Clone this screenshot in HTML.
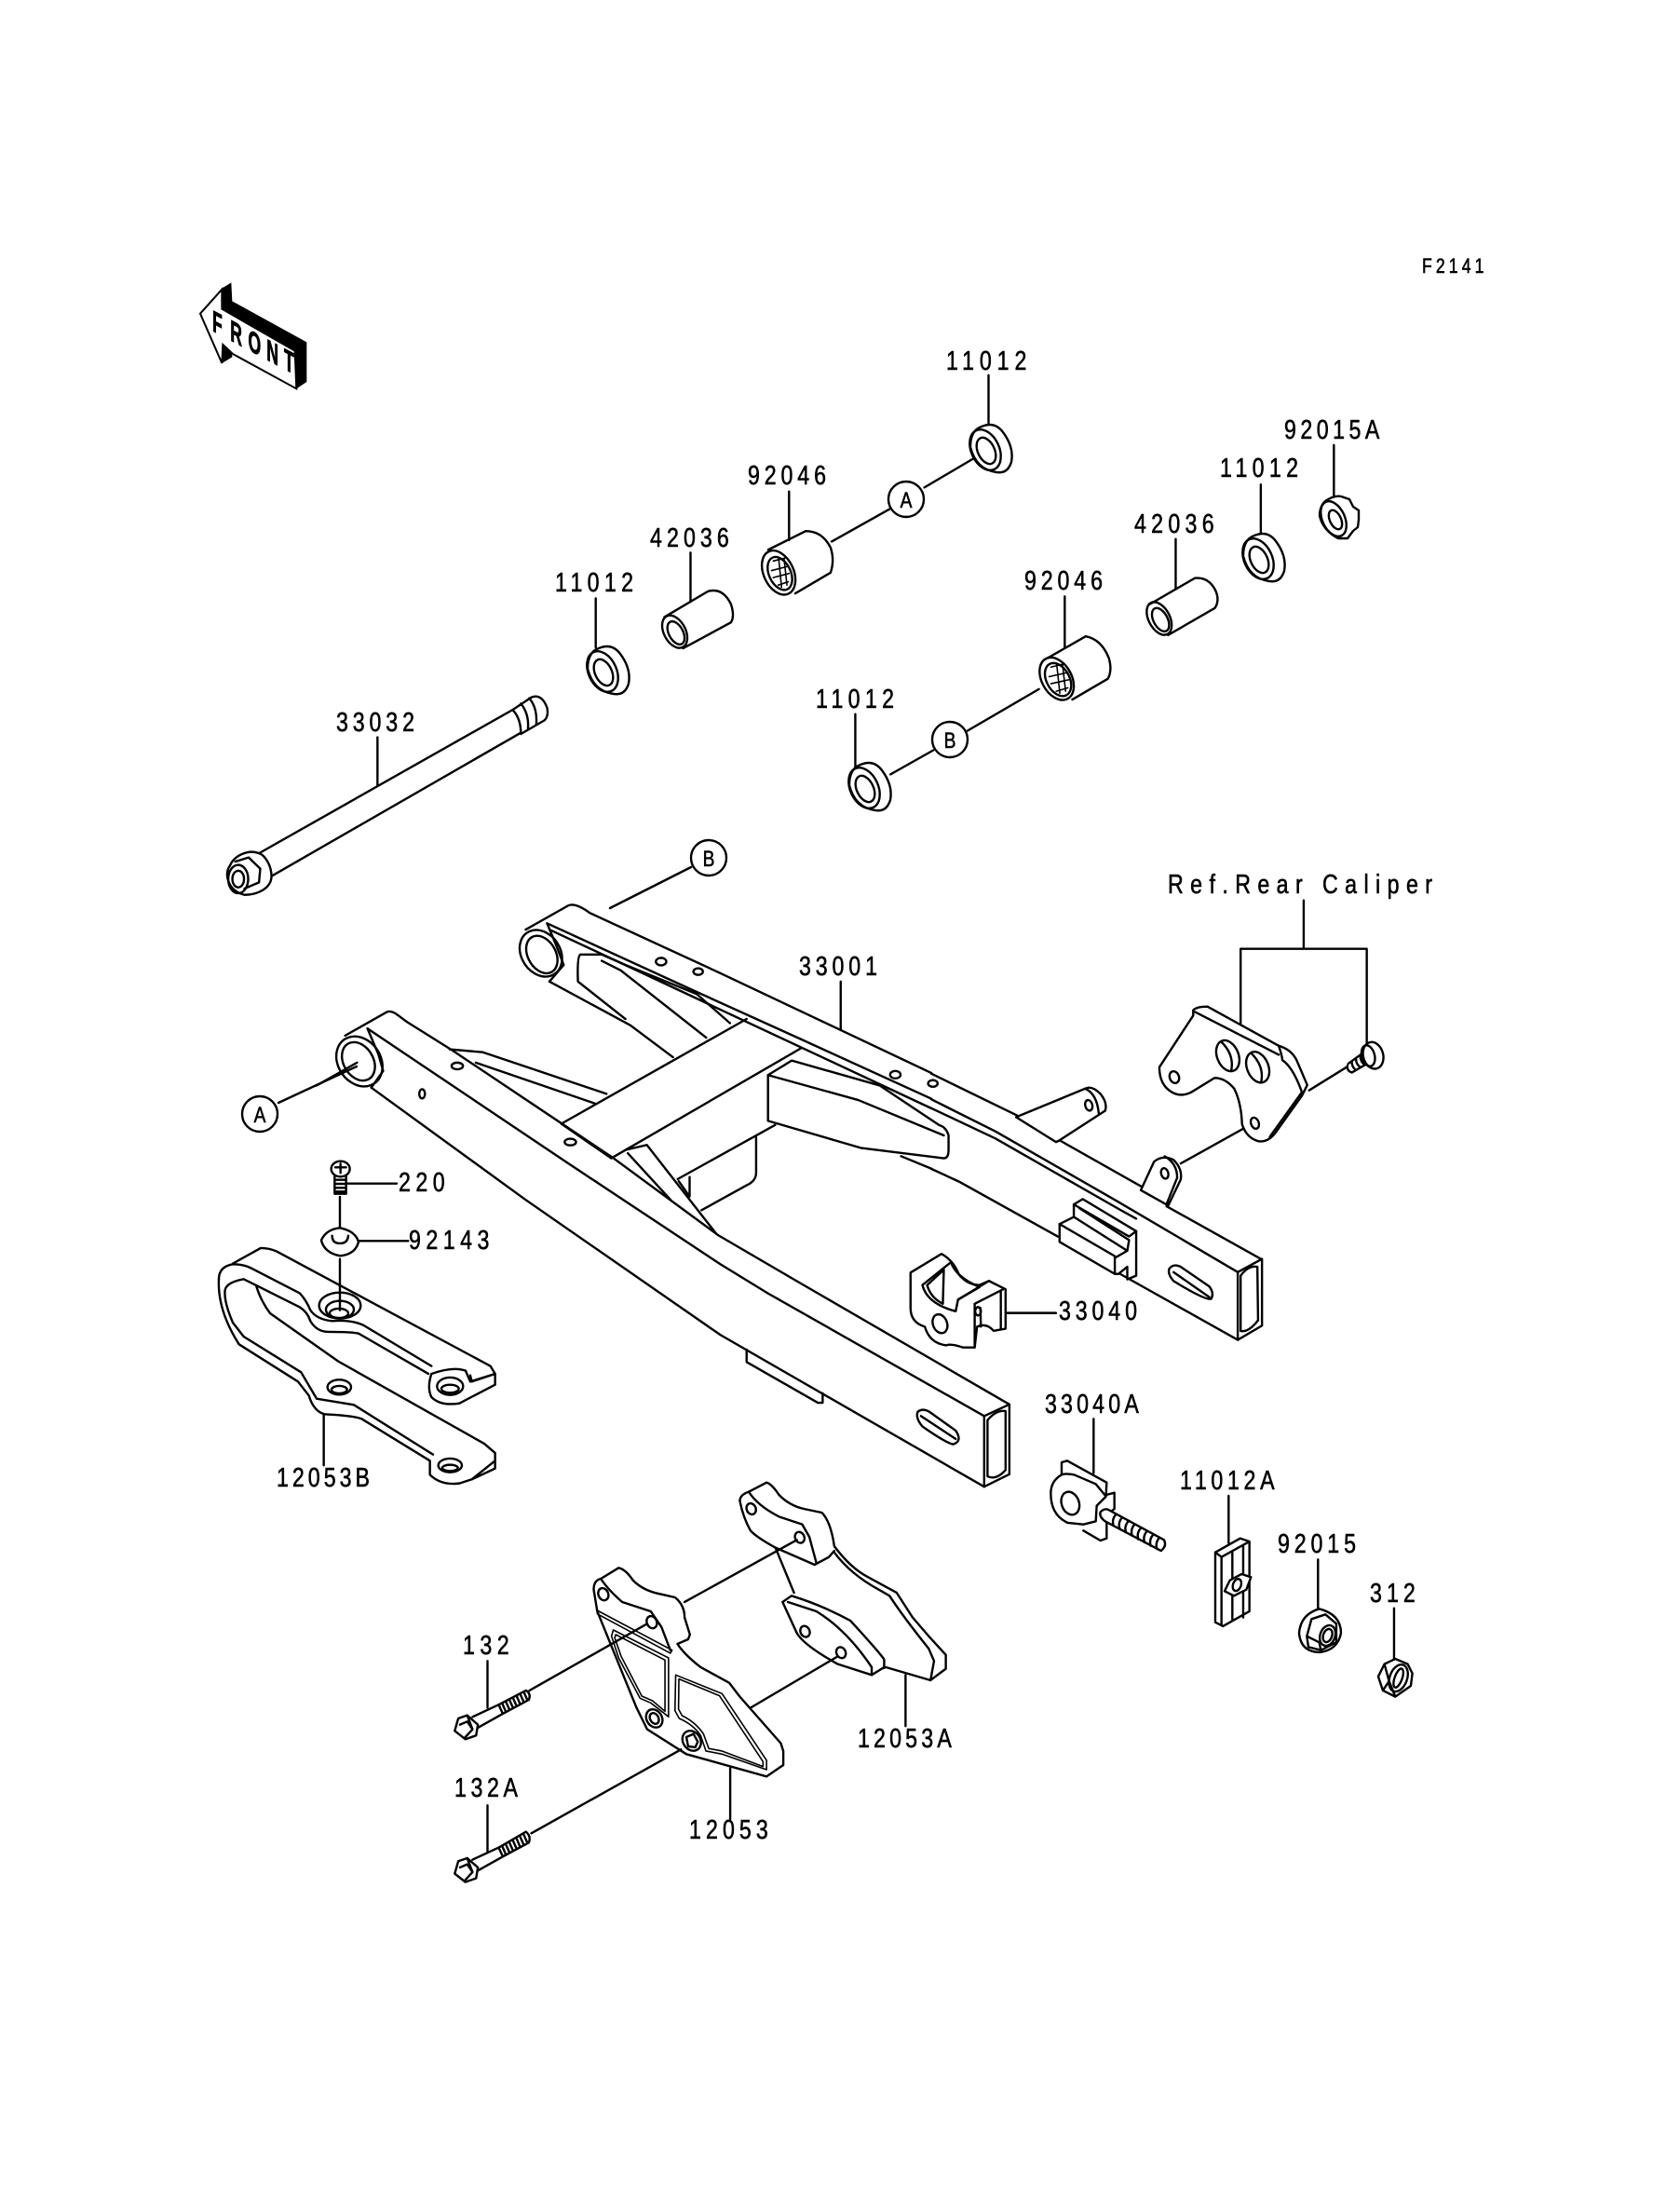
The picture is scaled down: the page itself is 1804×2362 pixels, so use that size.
<!DOCTYPE html>
<html><head><meta charset="utf-8"><style>
html,body{margin:0;padding:0;background:#fff}
svg{display:block}
path,ellipse,line,circle,polygon{vector-effect:non-scaling-stroke}
.d{fill:none;stroke:#000;stroke-width:2.4;stroke-linejoin:round;stroke-linecap:round}
.w{fill:#fff}
.t{stroke-width:1.6}
text{font-family:"Liberation Sans",sans-serif;font-size:29px;fill:#000;stroke:#000;stroke-width:.6}
.c{font-size:24px;text-anchor:middle}
</style></head><body>
<svg width="1804" height="2362" viewBox="0 0 1804 2362" xmlns="http://www.w3.org/2000/svg">
<rect width="1804" height="2362" fill="#fff"/>
<defs>
<g id="wa" class="d">
<path class="w" d="M-10,-24 Q4,-30 13,-18 Q25,-2 22,14 Q18,27 6,25 Q-16,22 -22,-2 Q-22,-20 -10,-24Z"/>
<ellipse cx="-6" cy="1" rx="15" ry="23" transform="rotate(-25 -6 1)"/>
<ellipse cx="-5" cy="2" rx="9" ry="15" transform="rotate(-25 -5 2)"/>
</g>
<g id="nu" class="d">
<path class="w" d="M-16,-18 Q-4,-26 4,-22 L10,-20 L14,-12 L20,-8 L20,2 L19,10 L14,14 L8,22 L-2,22 Q-18,14 -22,-2 Q-22,-12 -16,-18Z"/>
<ellipse cx="-7" cy="1" rx="12" ry="20" transform="rotate(-25 -7 1)"/>
<ellipse cx="-5" cy="2" rx="6" ry="11" transform="rotate(-25 -5 2)"/>
</g>
</defs>

<!-- FRONT arrow -->
<g transform="translate(190,280) scale(.3333)">
<path d="M143,90 L175,70 L178,130 L418,262 L418,390 L385,412 L380,290 L145,155Z M145,330 L178,310 L178,290 L148,270Z" fill="#000"/>
<path d="M75,170 L145,92 L145,155 L380,290 L385,412 L180,300 L148,270 L145,330Z" fill="#fff" stroke="#000" stroke-width="2"/>
</g>
<text transform="translate(228,355) skewY(28) scale(.55,1)" x="0 35 70 106 140" y="0" style="font-size:32px;font-weight:bold;stroke:#000;stroke-width:1">FRONT</text>

<!-- upper-left parts (zoom1) -->
<g class="d" transform="translate(200,280) scale(.4464)">
<path d="M175,1425 L785,1080 M205,1480 L805,1135"/>
<path d="M785,1080 L830,1050 Q855,1040 868,1075 Q872,1095 862,1105 L805,1138 M785,1080 Q805,1100 805,1138 M805,1065 Q825,1090 822,1125 M825,1052 Q845,1075 842,1115"/>
<path class="w" d="M175,1425 C150,1415 115,1430 105,1455 C90,1475 100,1515 140,1525 C170,1525 205,1510 205,1480 C205,1455 190,1430 175,1425Z"/>
<path d="M118,1445 L150,1435 L178,1462 L175,1495 L140,1510"/>
<ellipse cx="125" cy="1487" rx="24" ry="34"/>
<ellipse cx="125" cy="1487" rx="14" ry="20"/>
<path d="M460,1146 L460,1262 M985,812 L985,930 M1213,702 L1213,820 M1450,555 L1450,672"/>
<!-- sleeve 42036 -->
<path d="M1150,857 L1255,795 Q1290,785 1310,825 Q1320,855 1310,870 L1195,932"/>
<ellipse cx="1175" cy="892" rx="26" ry="42" transform="rotate(-28 1175 892)"/>
<ellipse cx="1178" cy="895" rx="17" ry="30" transform="rotate(-28 1178 895)"/>
<!-- bearing 92046 -->
<path d="M1400,695 L1490,650 Q1530,650 1550,690 Q1560,720 1550,750 L1465,800"/>
<ellipse cx="1425" cy="750" rx="36" ry="56" transform="rotate(-25 1425 750)"/>
<ellipse cx="1428" cy="752" rx="26" ry="42" transform="rotate(-25 1428 752)"/>
<path class="t" d="M1412,722 L1440,715 M1408,745 L1447,735 M1412,762 L1450,752 M1424,780 L1448,772 M1425,715 L1432,785 M1438,716 L1445,780"/>
</g>

<!-- upper-right parts (zoom2) -->
<g class="d" transform="translate(850,260) scale(.4785,.4464)">
<path d="M442,320 L442,445 M1053,583 L1053,705 M1217,488 L1217,615 M862,714 L862,835 M613,852 L613,975 M143,1135 L143,1262"/>
<path d="M90,720 L220,642 M298,590 L412,518 M222,1280 L318,1222 M395,1175 L555,1075"/>
<path d="M805,870 L905,808 Q935,805 950,835 Q962,860 950,880 L845,945"/>
<ellipse cx="825" cy="905" rx="24" ry="42" transform="rotate(-25 825 905)"/>
<ellipse cx="828" cy="908" rx="16" ry="30" transform="rotate(-25 828 908)"/>
<path d="M575,1000 L660,948 Q695,955 712,1000 Q720,1030 710,1050 L630,1100"/>
<ellipse cx="595" cy="1050" rx="34" ry="54" transform="rotate(-25 595 1050)"/>
<ellipse cx="598" cy="1052" rx="26" ry="42" transform="rotate(-25 598 1052)"/>
<path class="t" d="M582,1022 L612,1014 M578,1045 L620,1035 M582,1062 L624,1052 M594,1080 L620,1072 M595,1015 L602,1085 M608,1016 L615,1080"/>
</g>

<use href="#wa" x="1064" y="482"/>
<use href="#wa" x="1357" y="599"/>
<use href="#wa" x="934" y="845"/>
<use href="#wa" x="653" y="720"/>
<use href="#nu" x="1439" y="556"/>

<g class="d">
<circle class="w" cx="973" cy="536" r="19"/>
<circle class="w" cx="1020" cy="794" r="19"/>
<circle class="w" cx="761" cy="921" r="19"/>
<circle class="w" cx="279" cy="1196" r="19"/>
<path d="M655,975 L742,931 M299,1184 L383,1145"/>
</g>

<!-- swingarm (zoom3) -->
<g class="d" transform="translate(340,940) scale(.5102,.4464)">
<path d="M1103,255 L1103,370"/>
<!-- right arm -->
<path d="M440,130 L530,72 Q545,65 575,90 L850,235 L1294,475"/>
<path d="M485,115 L800,280 L1020,394 L1294,537 M490,130 L1294,560"/>
<path d="M485,115 L505,170 L520,215 L490,255"/>
<ellipse cx="472" cy="187" rx="42" ry="58" transform="rotate(-22 472 187)"/>
<ellipse cx="474" cy="190" rx="30" ry="47" transform="rotate(-22 474 190)"/>
<path d="M490,255 L660,360 L750,437 M555,190 Q548,195 550,255 L650,345 M555,190 L600,190 L650,215 L800,285 L870,355 M600,205 L640,228 L820,390"/>
<ellipse cx="725" cy="207" rx="11" ry="9"/>
<ellipse cx="803" cy="231" rx="10" ry="8"/>
<ellipse cx="1218" cy="479" rx="11" ry="9"/>
<ellipse cx="1297" cy="500" rx="10" ry="8"/>
<path d="M1230,675 L1294,705"/>
<!-- gusset right -->
<path class="w" d="M950,480 L950,590 L1145,655 L1320,680 Q1330,680 1330,660 L1330,625 Q1325,605 1310,600 L1185,505 L1000,445Z"/>
<path d="M950,480 L1140,540 L1320,625"/>
<!-- crossmember -->
<path d="M515,597 L905,345 M620,680 L1020,415 M515,597 L620,680"/>
<path d="M280,418 L350,425 L610,525 M335,450 L585,548"/>
<path d="M650,660 L695,648 L840,860 M655,668 L745,780"/>
<path d="M760,730 L965,600 M785,725 L785,772 M762,735 L785,772 M925,630 L925,715 Q925,735 905,745 L810,805"/>
<!-- left arm -->
<path d="M60,385 L145,330 Q155,322 170,335 L190,352 L285,420 L625,680 L845,865 L1010,975 L1458,1272"/>
<path d="M107,368 L520,685 L850,935 L950,1005 L1405,1300"/>
<path d="M115,510 L440,780 L850,1105 L1405,1470"/>
<path d="M107,368 L130,430 L140,470 L115,510"/>
<ellipse cx="90" cy="447" rx="46" ry="62" transform="rotate(-22 90 447)"/>
<ellipse cx="88" cy="447" rx="32" ry="48" transform="rotate(-22 88 447)"/>
<path d="M0,505 L85,450"/>
<ellipse cx="296" cy="458" rx="12" ry="8"/>
<ellipse cx="222" cy="525" rx="6" ry="11"/>
<ellipse cx="534" cy="641" rx="12" ry="8"/>
<path d="M1405,1300 L1458,1272 L1458,1440 L1405,1470Z"/>
<path d="M1412,1310 Q1430,1285 1450,1288 L1450,1430 Q1430,1455 1412,1445Z"/>
<path d="M1265,1290 Q1275,1280 1290,1290 L1345,1335 Q1360,1360 1340,1368 Q1325,1365 1275,1325 Q1260,1305 1265,1290Z M1272,1300 L1345,1355"/>
<path d="M905,1140 L905,1170 L1055,1268 L1065,1268 L1065,1245"/>
<!-- 33040 -->
<path class="w" d="M1250,955 L1315,910 Q1340,925 1352,960 Q1370,985 1395,985 L1415,975 L1450,995 L1450,1090 L1425,1095 Q1410,1075 1390,1085 L1385,1135 L1360,1135 Q1335,1125 1325,1130 Q1290,1125 1280,1085 Q1250,1075 1250,1040Z"/>
<path d="M1275,985 L1335,930 Q1345,965 1395,990 L1350,1020 L1345,1048 Q1285,1030 1275,985Z M1285,985 L1320,948 L1318,1030 Q1292,1015 1285,985"/>
<path d="M1350,1020 L1415,975 M1385,1030 L1445,995 M1385,1030 L1385,1135 M1440,1000 L1440,1090 M1397,1040 L1398,1085"/>
<ellipse cx="1392" cy="1048" rx="6" ry="10"/>
<ellipse cx="1312" cy="1078" rx="15" ry="23" transform="rotate(-15 1312 1078)"/>
<path d="M1452,1052 L1555,1052"/>
</g>

<!-- right end of arm (zoom4) -->
<g class="d" transform="translate(1000,920) scale(.3827)">
<path d="M0,608 L240,725 M360,795 L590,925 M660,980 L925,1128"/>
<path d="M0,680 L180,770 L520,965 L860,1165 M0,705 L180,790 L530,990 L575,1015"/>
<path d="M0,875 L80,912 L355,1065 M530,1170 L860,1355"/>
<path d="M860,1165 L928,1128 L928,1315 L860,1355Z"/>
<path d="M868,1175 Q890,1145 915,1150 L917,1300 Q890,1335 868,1330Z"/>
<path d="M668,1155 Q680,1140 700,1150 L780,1205 Q795,1225 785,1240 Q770,1245 680,1190 Q662,1170 668,1155Z M680,1165 L780,1235"/>
<!-- block -->
<path class="w" d="M360,1030 L400,1010 L400,975 L425,960 L575,1050 L575,1175 L550,1185 L550,1150 L525,1170 L515,1170 L360,1080Z"/>
<path d="M360,1030 L515,1120 L515,1170 M400,1010 L550,1105 L515,1125 M415,985 L555,1075 L550,1105 M400,975 L555,1065 L575,1050"/>
<!-- upper lug -->
<path class="w" d="M238,730 L432,650 Q450,640 475,665 Q495,690 488,712 L360,795 L350,800Z"/>
<ellipse cx="442" cy="697" rx="10" ry="15" transform="rotate(-15 442 697)"/>
<path d="M432,650 Q465,665 470,720"/>
<!-- lower lug -->
<path class="w" d="M588,935 L625,855 Q650,835 680,850 Q705,875 700,905 L665,978Z"/>
<ellipse cx="655" cy="888" rx="10" ry="15" transform="rotate(-15 655 888)"/>
<path d="M655,840 Q690,860 690,900 L660,975"/>
<path d="M700,860 L880,760"/>
<!-- caliper bracket -->
<path class="w" d="M735,430 Q745,420 775,420 L975,530 Q1010,540 1025,570 L1055,640 L1040,670 L965,775 Q945,800 920,798 Q885,790 872,750 Q870,690 850,650 Q825,620 795,620 L730,660 Q700,675 675,660 Q640,640 640,590 L735,445Z"/>
<path d="M740,435 L975,555 M975,530 Q985,560 985,570 Q1015,590 1040,660 L950,785"/>
<ellipse cx="832" cy="558" rx="30" ry="45" transform="rotate(-22 832 558)"/>
<path d="M815,520 Q850,555 842,598"/>
<ellipse cx="916" cy="590" rx="30" ry="45" transform="rotate(-22 916 590)"/>
<path d="M899,552 Q934,587 926,630"/>
<ellipse cx="682" cy="618" rx="13" ry="17" transform="rotate(-20 682 618)"/>
<ellipse cx="908" cy="747" rx="11" ry="16" transform="rotate(-20 908 747)"/>
<path d="M1060,655 L1165,590"/>
<path d="M1170,580 L1225,540 M1180,605 L1240,570 M1168,585 Q1165,600 1180,605 M1180,575 Q1180,590 1192,598 M1192,568 Q1192,582 1204,590 M1204,560 Q1204,575 1216,583 M1215,552 Q1215,567 1228,576"/>
<ellipse class="w" cx="1240" cy="557" rx="28" ry="38" transform="rotate(-15 1240 557)"/>
<ellipse cx="1226" cy="558" rx="18" ry="30" transform="rotate(-15 1226 558)"/>
<path d="M1045,122 L1045,258 M868,470 L868,258 L1222,258 L1222,525"/>
<path d="M213,1280 L350,1280"/>
</g>

<!-- chain slipper (zoom5) -->
<g class="d" transform="translate(200,1200) scale(.3333)">
<ellipse cx="497" cy="165" rx="30" ry="25"/>
<path d="M480,160 L515,160 M497,148 L497,178"/>
<path d="M478,185 L478,245 L515,245 L515,185 M478,200 L515,200 M478,213 L515,213 M478,226 L515,226 M478,238 L515,238"/>
<path d="M518,212 L678,212 M495,255 L495,355 M495,455 L495,620 M555,397 L715,397"/>
<path d="M435,395 Q450,360 495,355 Q545,365 555,400 Q545,440 495,445 Q445,435 435,395Z M470,380 Q470,405 495,405 Q520,405 522,380"/>
<path d="M150,470 L240,420 Q265,420 290,430 L980,800 L995,825 L920,850 L915,830"/>
<path d="M105,520 Q105,480 150,472 Q185,472 210,485 L365,565 Q385,585 400,620 Q420,650 470,655 Q530,650 570,668 L790,800"/>
<path d="M125,555 Q130,530 185,520 L225,540 L365,610 Q390,625 400,655 Q420,690 460,690 Q530,690 555,695 L780,825"/>
<path d="M225,540 Q240,590 270,630 L490,785 L960,1050 L995,1080 L995,1130 L920,1165 L880,1178 Q820,1185 785,1150 L785,1105 L565,970 Q540,960 445,955 Q410,945 395,895 L360,850 L170,730 Q100,620 105,520"/>
<path d="M125,555 Q120,590 150,660 L185,705 L370,820 L420,905 L540,925 L795,1085 M920,1165 L995,1105"/>
<ellipse cx="493" cy="868" rx="38" ry="24"/>
<ellipse cx="493" cy="876" rx="25" ry="12"/>
<ellipse cx="850" cy="1120" rx="38" ry="22"/>
<ellipse cx="850" cy="1128" rx="25" ry="10"/>
<path d="M790,825 Q860,800 900,815 L915,850 L995,825 L995,860 L880,920 Q820,930 790,900 Q775,870 790,825Z"/>
<ellipse cx="850" cy="865" rx="42" ry="28"/>
<ellipse cx="850" cy="873" rx="28" ry="13"/>
<ellipse cx="495" cy="605" rx="67" ry="42"/>
<ellipse cx="495" cy="618" rx="45" ry="28"/>
<ellipse cx="492" cy="630" rx="30" ry="15"/>
<path d="M443,955 L443,1120"/>
</g>

<!-- sprocket guard (zoom6) -->
<g class="d" transform="translate(450,1550) scale(.3827,.3333)">
<path d="M925,155 L975,125 Q990,130 1010,165 Q1040,200 1080,210 L1130,222 Q1155,250 1165,330 Q1210,400 1260,430 L1340,480 L1385,560 L1430,620 L1478,680 L1478,725 L1435,762 L1310,720 L1290,728"/>
<path d="M925,155 Q900,165 900,185 Q910,240 930,280 Q945,300 1000,335 L1110,390 L1150,365 L1165,345"/>
<path d="M1075,260 L1095,300 L1115,385 M1010,235 L1075,260 M925,155 Q950,200 1010,235"/>
<path d="M1165,350 Q1210,420 1290,470 L1320,490 Q1360,560 1430,660 L1445,700 L1435,762"/>
<path class="w" d="M1045,490 L1020,510 L1060,610 Q1080,650 1175,710 L1270,745 L1305,720 L1305,695 Q1290,670 1210,570 Q1130,520 1045,490Z"/>
<path d="M1035,510 L1115,540 Q1200,600 1270,720 L1270,745"/>
<ellipse cx="932" cy="210" rx="13" ry="18" transform="rotate(-15 932 210)"/>
<ellipse cx="1068" cy="302" rx="13" ry="18" transform="rotate(-15 1068 302)"/>
<ellipse cx="1083" cy="605" rx="13" ry="18" transform="rotate(-15 1083 605)"/>
<ellipse cx="1184" cy="673" rx="13" ry="18" transform="rotate(-15 1184 673)"/>
<path d="M1000,335 L1052,480 M745,510 L1060,310 M928,852 L1175,685"/>
<path class="w" d="M510,435 L560,400 Q580,405 600,440 Q630,475 680,485 L718,495 Q745,520 745,560 L760,615 L755,630 L725,645 Q745,680 790,720 L870,770 L900,815 L1015,965 L1022,990 L1022,1035 L975,1072 L750,1000 L640,920 L610,850 L500,540 L490,470 Q490,440 510,435Z"/>
<path d="M510,435 Q530,470 570,510 L650,540 L680,590 L705,665"/>
<path class="t" d="M500,537 L710,665 L705,675 L500,548Z"/>
<path class="t" d="M545,600 L700,690 L700,880 Q690,870 650,835 L620,820 L560,690 L540,620Z M552,615 L690,697 L690,862 L655,828 L625,813 L567,685 L549,625Z"/>
<path class="t" d="M720,745 L850,805 L975,1020 L975,1050 L850,1000 L805,990 L790,940 Q770,905 730,885 L718,860Z M729,758 L843,812 L965,1024 L965,1040 L850,990 L813,982 L798,935 Q775,896 738,876 L728,855Z"/>
<ellipse class="w" cx="660" cy="885" rx="22" ry="30" transform="rotate(-20 660 885)"/>
<ellipse cx="660" cy="885" rx="12" ry="18" transform="rotate(-20 660 885)"/>
<ellipse class="w" cx="765" cy="957" rx="25" ry="33" transform="rotate(-20 765 957)"/>
<path d="M750,945 L770,935 L782,960 L775,978 L755,975Z"/>
<ellipse cx="517" cy="485" rx="14" ry="20" transform="rotate(-15 517 485)"/>
<ellipse cx="653" cy="575" rx="14" ry="20" transform="rotate(-15 653 575)"/>
<path d="M310,795 L640,580 M315,1255 L735,985"/>
<!-- bolts -->
<path d="M150,880 L225,840 M165,915 L235,870 M225,840 L300,795 Q315,805 308,825 L235,870 M225,845 L235,870 M234,838 L244,865 M244,832 L254,858 M254,826 L264,852 M264,820 L274,846 M274,813 L284,840 M284,807 L294,833 M294,800 L304,826"/>
<path class="w" d="M110,885 L135,875 L165,905 L160,940 L130,952 L100,925Z"/>
<path d="M115,905 L135,895 L150,920 L130,945 M135,875 L150,920"/>
<path d="M150,1340 L225,1300 M165,1375 L235,1330 M225,1300 L300,1250 Q315,1265 308,1285 L235,1330 M225,1305 L235,1330 M234,1298 L244,1325 M244,1292 L254,1318 M254,1286 L264,1312 M264,1280 L274,1306 M274,1273 L284,1300 M284,1267 L294,1293 M294,1260 L304,1286"/>
<path class="w" d="M110,1345 L135,1335 L165,1365 L160,1400 L130,1412 L100,1385Z"/>
<path d="M115,1365 L135,1355 L150,1380 L130,1405 M135,1335 L150,1380"/>
<path d="M192,700 L192,850 M192,1165 L192,1315 M873,1045 L873,1210 M1365,745 L1365,910"/>
</g>

<!-- adjuster & nuts (zoom7) -->
<g class="d" transform="translate(1050,1480) scale(.3333)">
<path d="M373,130 L373,305 M808,378 L808,530 M1096,583 L1096,742 M1341,740 L1341,905"/>
<path d="M270,310 L270,270 L288,265 L415,335 L413,375 L440,368 L440,420 L415,440 L415,515 L395,522 L340,490"/>
<path class="w" d="M270,310 Q235,330 235,370 Q235,440 290,465 L340,470 L380,460 L383,410 L413,380 L380,340 L310,310 Q280,305 270,310Z"/>
<ellipse cx="298" cy="402" rx="28" ry="38" transform="rotate(-20 298 402)"/>
<path class="w" d="M395,430 Q410,415 425,425 L600,520 Q610,540 590,555 L410,460 Q390,445 395,430Z"/>
<path d="M445,438 q-14,15 -8,36 M465,448 q-14,15 -8,36 M485,460 q-14,15 -8,36 M505,470 q-14,15 -8,36 M525,482 q-14,15 -8,36 M545,492 q-14,15 -8,36 M565,503 q-14,15 -8,36 M585,513 q-14,15 -8,36"/>
<!-- 11012A -->
<path class="w" d="M765,560 L845,515 L875,525 L875,750 L790,798 L765,785Z"/>
<path d="M765,560 L785,575 L870,528 M785,575 L785,795 M820,560 L820,780 M855,540 L855,770"/>
<path class="w" d="M795,685 L812,650 L850,630 L880,640 L865,680 L825,700Z"/>
<ellipse cx="835" cy="665" rx="13" ry="20" transform="rotate(20 835 665)"/>
<!-- 92015 -->
<path d="M1035,820 Q1040,760 1100,742 Q1170,760 1170,820 Q1160,875 1100,882 Q1040,880 1035,820Z"/>
<path d="M1060,830 L1075,775 L1120,760 L1155,790 L1155,850 L1105,875 L1065,865Z M1060,830 L1100,850 L1105,875"/>
<ellipse cx="1127" cy="828" rx="24" ry="34" transform="rotate(20 1127 828)"/>
<ellipse cx="1127" cy="828" rx="14" ry="22" transform="rotate(20 1127 828)"/>
<!-- 312 -->
<path d="M1290,960 L1310,920 L1345,903 L1385,920 L1400,950 L1395,990 L1345,1025 L1305,1005Z M1310,920 L1325,975 L1305,1005 M1325,975 L1345,1025"/>
<ellipse cx="1355" cy="965" rx="28" ry="45" transform="rotate(20 1355 965)"/>
<ellipse cx="1355" cy="965" rx="12" ry="32" transform="rotate(20 1355 965)"/>
</g>

<!-- labels -->
<text transform="translate(1527,293) scale(.8,1)" textLength="83" style="font-size:22px">F2141</text>
<text transform="translate(1016,397) scale(.8,1)" textLength="108">11012</text>
<text transform="translate(1379,471) scale(.8,1)" textLength="128">92015A</text>
<text transform="translate(1310,512) scale(.8,1)" textLength="105">11012</text>
<text transform="translate(1218,572) scale(.8,1)" textLength="107">42036</text>
<text transform="translate(1100,633) scale(.8,1)" textLength="105">92046</text>
<text transform="translate(876,760) scale(.8,1)" textLength="105">11012</text>
<text transform="translate(803,520) scale(.8,1)" textLength="105">92046</text>
<text transform="translate(698,587) scale(.8,1)" textLength="106">42036</text>
<text transform="translate(596,635) scale(.8,1)" textLength="105">11012</text>
<text transform="translate(361,785) scale(.8,1)" textLength="105">33032</text>
<text transform="translate(1254,959) scale(.8,1)" textLength="355">Ref.Rear Caliper</text>
<text transform="translate(858,1047) scale(.8,1)" textLength="105">33001</text>
<text transform="translate(428,1279) scale(.8,1)" textLength="62">220</text>
<text transform="translate(439,1341) scale(.8,1)" textLength="108">92143</text>
<text transform="translate(1137,1417) scale(.8,1)" textLength="105">33040</text>
<text transform="translate(1122,1517) scale(.8,1)" textLength="126">33040A</text>
<text transform="translate(1267,1599) scale(.8,1)" textLength="127">11012A</text>
<text transform="translate(1372,1667) scale(.8,1)" textLength="105">92015</text>
<text transform="translate(1471,1720) scale(.8,1)" textLength="61">312</text>
<text transform="translate(297,1596) scale(.8,1)" textLength="125">12053B</text>
<text transform="translate(497,1776) scale(.8,1)" textLength="62">132</text>
<text transform="translate(488,1929) scale(.8,1)" textLength="85">132A</text>
<text transform="translate(740,1974) scale(.8,1)" textLength="106">12053</text>
<text transform="translate(921,1876) scale(.8,1)" textLength="126">12053A</text>
<text class="c" transform="translate(973,545) scale(.8,1)">A</text>
<text class="c" transform="translate(1020,803) scale(.8,1)">B</text>
<text class="c" transform="translate(761,930) scale(.8,1)">B</text>
<text class="c" transform="translate(279,1205) scale(.8,1)">A</text>
</svg>
</body></html>
